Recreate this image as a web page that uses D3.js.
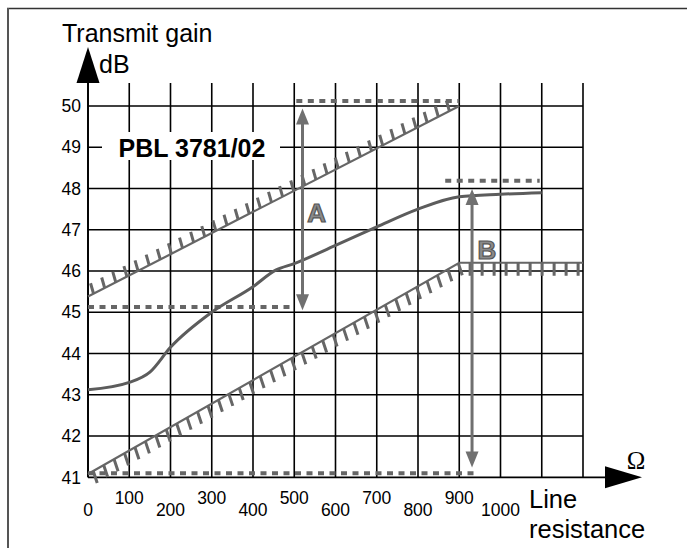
<!DOCTYPE html>
<html><head><meta charset="utf-8">
<script src="https://cdn.jsdelivr.net/npm/d3@7"></script>
<style>body{margin:0;background:#fff}svg{display:block}</style>
</head><body>
<script>
// ---- data ----
const xGrid = [0,100,200,300,400,500,600,700,800,900,1000,1100,1200];
const xTickLabels = [0,100,200,300,400,500,600,700,800,900,1000];
const yTicks = [41,42,43,44,45,46,47,48,49,50];
const curveX = [0,100,150,200,300,400,455,500,600,700,800,900,1000,1100];
const curveY = [43.12,43.3,43.55,44.15,45.0,45.62,46.02,46.18,46.62,47.07,47.5,47.8,47.86,47.9];
const upperLimitX = [0,900];
const upperLimitY = [45.38,50.0];
const lowerLimitX = [0,900,1200];
const lowerLimitY = [41.08,46.2,46.2];
const refStart = [505,866,0,0];
const refEnd   = [900,1095,495,942];
const refLevel = [50.12,48.19,45.13,41.1];
const arrowLabels = ["A","B"];
const arrowX  = [520,931];
const arrowLo = [45.05,41.24];
const arrowHi = [49.94,47.99];
const labelX  = [554,967];
const labelY  = [47.2,46.29];

// ---- setup ----
const W = 687, H = 548;
const svg = d3.select("body").append("svg").attr("width",W).attr("height",H);
const x = d3.scaleLinear().domain([0,1200]).range([88,583]);
const y = d3.scaleLinear().domain([41,50]).range([477.3,106]);
const font = "'Liberation Sans', Arial, sans-serif";
const gray = "#666";

// frame
svg.append("line").attr("x1",7).attr("x2",W).attr("y1",8.5).attr("y2",8.5).attr("stroke","#333").attr("stroke-width",1.5);
svg.append("line").attr("x1",8).attr("x2",8).attr("y1",8).attr("y2",H).attr("stroke","#555").attr("stroke-width",2);

const gridTop = y(50.56);
// vertical grid
svg.append("g").selectAll("line").data(xGrid).join("line")
  .attr("x1",d=>x(d)).attr("x2",d=>x(d)).attr("y1",gridTop).attr("y2",y(41))
  .attr("stroke","#000").attr("stroke-width",1.6);
// horizontal grid
svg.append("g").selectAll("line").data(yTicks.slice(1)).join("line")
  .attr("x1",x(0)).attr("x2",x(1200)).attr("y1",d=>y(d)).attr("y2",d=>y(d))
  .attr("stroke","#000").attr("stroke-width",1.6);
// x axis
const xArrowBase = 605, xArrowTip = 642;
svg.append("line").attr("x1",x(0)).attr("x2",xArrowBase+2).attr("y1",y(41)).attr("y2",y(41)).attr("stroke","#000").attr("stroke-width",1.8);
svg.append("path").attr("d",`M${xArrowTip},${y(41)} L${xArrowBase},${y(41)-11} L${xArrowBase},${y(41)+11}Z`).attr("fill","#000");
// y axis
svg.append("line").attr("x1",x(0)).attr("x2",x(0)).attr("y1",gridTop-2).attr("y2",y(41)).attr("stroke","#000").attr("stroke-width",1.8);
svg.append("path").attr("d",`M${x(0)},47 L${x(0)-11.5},${gridTop} L${x(0)+11.5},${gridTop}Z`).attr("fill","#000");

// y tick labels
svg.append("g").selectAll("text").data(yTicks).join("text")
  .attr("x",81).attr("y",d=>y(d)+6.2).attr("text-anchor","end")
  .attr("font-family",font).attr("font-size",17.5).text(d=>d);
// x tick labels (staggered)
svg.append("g").selectAll("text").data(xTickLabels).join("text")
  .attr("x",d=>x(d)).attr("y",d=>(d/100)%2===1?504:515.5).attr("text-anchor","middle")
  .attr("font-family",font).attr("font-size",17.5).text(d=>d);

// axis titles
svg.append("text").attr("x",62).attr("y",41.5).attr("font-family",font).attr("font-size",25).text("Transmit gain");
svg.append("text").attr("x",99).attr("y",73).attr("font-family",font).attr("font-size",25).text("dB");
svg.append("text").attr("x",529).attr("y",508).attr("font-family",font).attr("font-size",25.5).text("Line");
svg.append("text").attr("x",529).attr("y",538).attr("font-family",font).attr("font-size",25.5).text("resistance");
svg.append("text").attr("x",636).attr("y",469).attr("text-anchor","middle").attr("font-family","'Liberation Serif','DejaVu Serif',serif").attr("font-size",25).text("Ω");

// PBL label with white box
svg.append("rect").attr("x",102).attr("y",132).attr("width",178).attr("height",28).attr("fill","#fff");
svg.append("text").attr("x",192).attr("y",156.7).attr("text-anchor","middle").attr("font-family",font)
  .attr("font-weight","bold").attr("font-size",25).text("PBL 3781/02");

// reference dashed lines
svg.append("g").selectAll("line").data(refLevel).join("line")
  .attr("x1",(d,i)=>x(refStart[i])).attr("x2",(d,i)=>x(refEnd[i]))
  .attr("y1",d=>y(d)).attr("y2",d=>y(d))
  .attr("stroke",gray).attr("stroke-width",4).attr("stroke-dasharray","6 5.5");

// hatched limit lines
function hatched(xs, ys, spacing, tickFor){
  const pts = xs.map((v,i)=>[x(v), y(ys[i])]);
  const g = svg.append("g");
  g.append("path").attr("d",d3.line()(pts)).attr("fill","none").attr("stroke",gray).attr("stroke-width",2.2);
  let carry = spacing/2;
  let path = "";
  for(let s=0;s<pts.length-1;s++){
    const [x0,y0]=pts[s],[x1,y1]=pts[s+1];
    const L = Math.hypot(x1-x0,y1-y0);
    const horiz = Math.abs(y1-y0)<0.5;
    const [tdx,tdy] = tickFor(horiz);
    for(let t=carry;t<=L;t+=spacing){
      const px=x0+(x1-x0)*t/L, py=y0+(y1-y0)*t/L;
      path += `M${px},${py}L${px+tdx},${py+tdy}`;
      carry = t+spacing-L;
    }
  }
  g.append("path").attr("d",path).attr("stroke",gray).attr("stroke-width",3).attr("fill","none");
}
hatched(upperLimitX, upperLimitY, 12.5, ()=>[-3,-10.5]);
hatched(lowerLimitX, lowerLimitY, 12, h=> h?[0,13]:[4,12]);

// measured curve
svg.append("path").datum(curveX.map((v,i)=>[v,curveY[i]]))
  .attr("d",d3.line().x(d=>x(d[0])).y(d=>y(d[1])).curve(d3.curveMonotoneX))
  .attr("fill","none").attr("stroke","#5c5c5c").attr("stroke-width",3).attr("stroke-linejoin","round");

// double arrows
const ag = svg.append("g");
arrowX.forEach((v,i)=>{
  const cx = x(v), top = y(arrowHi[i]), bot = y(arrowLo[i]);
  const hl = 16, hw = 6.5;
  ag.append("line").attr("x1",cx).attr("x2",cx).attr("y1",top+hl-1).attr("y2",bot-hl+1).attr("stroke","#707070").attr("stroke-width",3);
  ag.append("path").attr("d",`M${cx},${top}L${cx-hw},${top+hl}L${cx+hw},${top+hl}Z`).attr("fill","#707070");
  ag.append("path").attr("d",`M${cx},${bot}L${cx-hw},${bot-hl}L${cx+hw},${bot-hl}Z`).attr("fill","#707070");
});
svg.append("g").selectAll("text").data(arrowLabels).join("text")
  .attr("x",(d,i)=>x(labelX[i])).attr("y",(d,i)=>y(labelY[i])).attr("text-anchor","middle")
  .attr("font-family",font).attr("font-weight","bold").attr("font-size",26)
  .attr("fill","#8a8a8a").attr("stroke","#555").attr("stroke-width",1.2).text(d=>d);
</script>
</body></html>
